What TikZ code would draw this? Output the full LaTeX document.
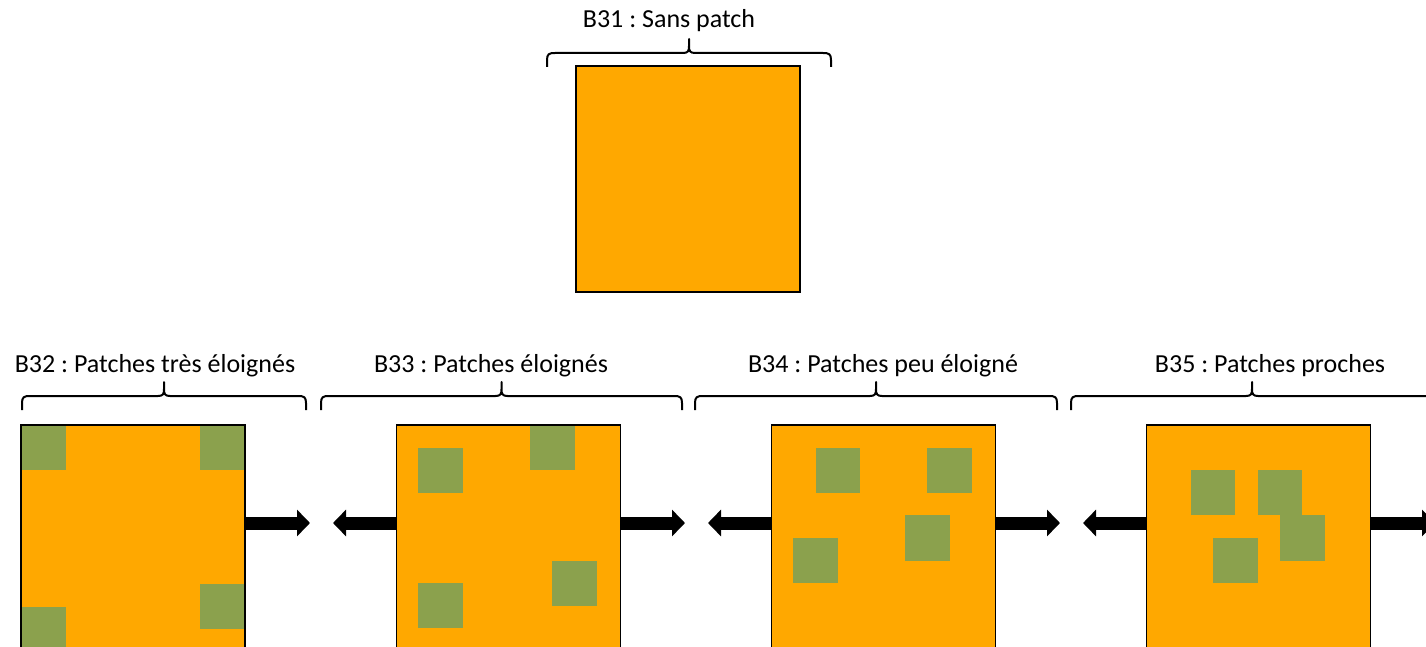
\documentclass[tikz,border=0pt]{standalone}
\usepackage{fontspec}
\setmainfont{Carlito}
\usetikzlibrary{arrows.meta}
\definecolor{orng}{RGB}{255,168,0}
\definecolor{grn}{RGB}{139,161,77}
\frenchspacing
\tikzset{
  sq/.style={fill=orng, minimum width=224pt, minimum height=226pt, anchor=north west, inner sep=0pt, outer sep=0pt},
  sqborder/.style={draw=black, line width=1.2pt},
  patch/.style={fill=grn},
  blk/.style={line width=13pt, -{Triangle[length=13pt,width=26pt]}},
  brc/.style={draw=black, line width=2pt, line join=round},
  lbl/.style={anchor=base, inner sep=0pt, font=\fontsize{26}{31}\selectfont}
}
\newcommand{\obrace}[3]{%
  \path[brc] (#1,{#3+14}) -- (#1,{#3+7}) .. controls (#1,{#3+1}) and ({#1+2},#3) .. ({#1+8},#3)
    -- ({(#1+#2)/2-6},#3) .. controls ({(#1+#2)/2-1},#3) and ({(#1+#2)/2},{#3-2}) .. ({(#1+#2)/2},{#3-7})
    -- ({(#1+#2)/2},{#3-14}) -- ({(#1+#2)/2},{#3-7})
    .. controls ({(#1+#2)/2},{#3-2}) and ({(#1+#2)/2+1},#3) .. ({(#1+#2)/2+6},#3)
    -- ({#2-8},#3) .. controls ({#2-2},#3) and (#2,{#3+1}) .. (#2,{#3+7}) -- (#2,{#3+14});}
\begin{document}
\begin{tikzpicture}[x=1pt,y=-1pt]
\clip (0,0) rectangle (1426,647);
\fill[white] (0,0) rectangle (1426,647);

% top
\node[sq] (s31) at (576,66) {};
\draw[sqborder] (s31.north west) rectangle (s31.south east);
\obrace{547}{831}{53}
\node[lbl] (l31) at (669,27.5) {B31 : Sans patch};

% squares
\node[sq] (s32) at (21,425) {};
\node[sq] (s33) at (396.5,425) {};
\node[sq] (s34) at (771.5,425) {};
\node[sq] (s35) at (1146.5,425) {};

% patches B32
\fill[patch] (21,425) rectangle (66,470);
\fill[patch] (200,425) rectangle (245,470);
\fill[patch] (200,584) rectangle (245,629);
\fill[patch] (21,607) rectangle (66,652);
% patches B33
\fill[patch] (418,448) rectangle (463,493);
\fill[patch] (530,425) rectangle (575,470);
\fill[patch] (552,561) rectangle (597,606);
\fill[patch] (418,583) rectangle (463,628);
% patches B34
\fill[patch] (816,448) rectangle (860,493);
\fill[patch] (927,448) rectangle (972,493);
\fill[patch] (905,515) rectangle (950,561);
\fill[patch] (793,538) rectangle (838,583);
% patches B35
\fill[patch] (1191,470) rectangle (1235,515);
\fill[patch] (1258,470) rectangle (1302,515);
\fill[patch] (1280,515) rectangle (1325,561);
\fill[patch] (1213,538) rectangle (1258,583);

\foreach \s in {s32,s33,s34,s35}
  \draw[sqborder] (\s.north west) rectangle (\s.south east);

% braces and labels
\obrace{22}{306}{396}
\obrace{321}{682}{396}
\obrace{695}{1057}{396}
\obrace{1071}{1433}{396}
\node[lbl] (l32) at (155,372) {B32 : Patches très éloignés};
\node[lbl] (l33) at (491,372) {B33 : Patches éloignés};
\node[lbl] (l34) at (883,372) {B34 : Patches peu éloigné};
\node[lbl] (l35) at (1270,372) {B35 : Patches proches};

% arrows
\coordinate (a32r) at (310,523);
\coordinate (a33l) at (333,523);
\coordinate (a33r) at (685,523);
\coordinate (a34l) at (708,523);
\coordinate (a34r) at (1060,523);
\coordinate (a35l) at (1083,523);
\coordinate (a35r) at (1435,523);
\draw[blk] (s32.east |- a32r) -- (a32r);
\draw[blk] (s33.west |- a33l) -- (a33l);
\draw[blk] (s33.east |- a33r) -- (a33r);
\draw[blk] (s34.west |- a34l) -- (a34l);
\draw[blk] (s34.east |- a34r) -- (a34r);
\draw[blk] (s35.west |- a35l) -- (a35l);
\draw[blk] (s35.east |- a35r) -- (a35r);
\end{tikzpicture}
\end{document}
